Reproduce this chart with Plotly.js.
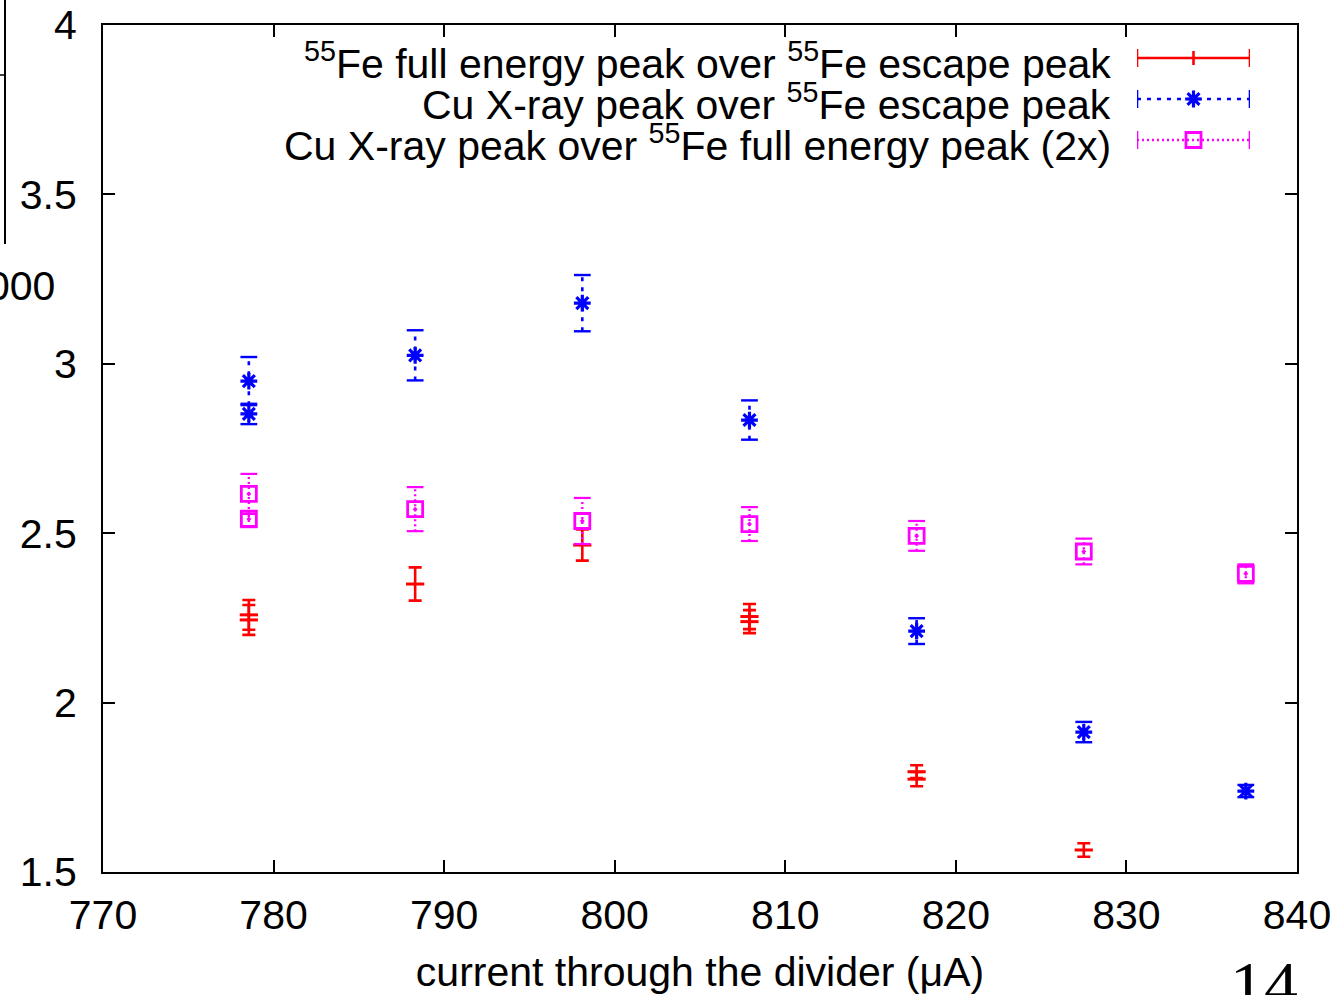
<!DOCTYPE html>
<html>
<head>
<meta charset="utf-8">
<script src="https://cdn.plot.ly/plotly-3.0.1.min.js"></script>
<style>html,body{margin:0;padding:0;background:#fff;}#plot{width:1341px;height:995px;}</style>
</head>
<body>
<div id="plot"></div>
<script>
// ---- data ----
const xTickVals = [770, 780, 790, 800, 810, 820, 830, 840];
const yTickVals = [1.5, 2, 2.5, 3, 3.5, 4];
const yTickText = ["1.5", "2", "2.5", "3", "3.5", "4"];

// 55Fe full energy peak over 55Fe escape peak
const feX   = [778.55, 778.55, 788.3, 798.1, 807.9, 807.9, 817.7, 817.7, 827.5];
const feY   = [2.259, 2.244, 2.350, 2.465, 2.254, 2.239, 1.796, 1.774, 1.565];
const feErr = [0.044, 0.044, 0.049, 0.046, 0.037, 0.034, 0.019, 0.021, 0.020];

// Cu X-ray peak over 55Fe escape peak
const cuEscX   = [778.55, 778.55, 788.3, 798.1, 807.9, 817.7, 827.5, 837.0];
const cuEscY   = [2.949, 2.852, 3.025, 3.179, 2.834, 2.211, 1.913, 1.739];
const cuEscErr = [0.071, 0.030, 0.074, 0.083, 0.058, 0.038, 0.030, 0.018];

// Cu X-ray peak over 55Fe full energy peak (2x)
const cuFullX   = [778.55, 778.55, 788.3, 798.1, 807.9, 817.7, 827.5, 837.0];
const cuFullY   = [2.616, 2.542, 2.571, 2.536, 2.527, 2.492, 2.446, 2.380];
const cuFullErr = [0.059, 0.024, 0.065, 0.068, 0.050, 0.044, 0.038, 0.028];

const legendLabels = [
  "<sup>55</sup>Fe full energy peak over <sup>55</sup>Fe escape peak",
  "Cu X-ray peak over <sup>55</sup>Fe escape peak",
  "Cu X-ray peak over <sup>55</sup>Fe full energy peak (2x)"
];
const xTitle = "current through the divider (\u03BCA)";

// ---- helpers ----
const RED = "#ff0000", BLUE = "#0000ff", MAG = "#ff00ff";
function segs(xs, ys, es) {
  const X = [], Y = [];
  xs.forEach((x, i) => { X.push(x, x, null); Y.push(ys[i] - es[i], ys[i] + es[i], null); });
  return {X, Y};
}
function caps(xs, ys, es) {
  const X = [], Y = [];
  xs.forEach((x, i) => { X.push(x, x); Y.push(ys[i] - es[i], ys[i] + es[i]); });
  return {X, Y};
}

const traces = [];
// red: solid error bars with + marker
traces.push({
  x: feX, y: feY, type: "scatter", mode: "markers", showlegend: false, hoverinfo: "skip",
  marker: {symbol: "line-ew-open", size: 13, color: RED, line: {color: RED, width: 3}},
  error_y: {type: "data", array: feErr, visible: true, color: RED, thickness: 2.6, width: 6.5}
});
// blue: dashed error bars with asterisk
const bS = segs(cuEscX, cuEscY, cuEscErr), bC = caps(cuEscX, cuEscY, cuEscErr);
traces.push({x: bS.X, y: bS.Y, type: "scatter", mode: "lines", showlegend: false, hoverinfo: "skip",
  line: {color: BLUE, width: 2.6, dash: "4px,6px"}, connectgaps: false});
traces.push({x: bC.X, y: bC.Y, type: "scatter", mode: "markers", showlegend: false, hoverinfo: "skip",
  marker: {symbol: "line-ew-open", size: 12, color: BLUE, line: {color: BLUE, width: 2.4}}});
traces.push({x: cuEscX, y: cuEscY, type: "scatter", mode: "markers", showlegend: false, hoverinfo: "skip",
  marker: {symbol: "asterisk-open", size: 14, color: BLUE, line: {color: BLUE, width: 3.2}}});
// magenta: dotted error bars with square
const mS = segs(cuFullX, cuFullY, cuFullErr), mC = caps(cuFullX, cuFullY, cuFullErr);
traces.push({x: mS.X, y: mS.Y, type: "scatter", mode: "lines", showlegend: false, hoverinfo: "skip",
  line: {color: MAG, width: 2.4, dash: "2px,3px"}, connectgaps: false});
traces.push({x: mC.X, y: mC.Y, type: "scatter", mode: "markers", showlegend: false, hoverinfo: "skip",
  marker: {symbol: "line-ew-open", size: 12, color: MAG, line: {color: MAG, width: 2.2}}});
traces.push({x: cuFullX, y: cuFullY, type: "scatter", mode: "markers", showlegend: false, hoverinfo: "skip",
  marker: {symbol: "square-open-dot", size: 15, color: MAG, line: {color: MAG, width: 2.8}}});

// legend samples on an overlay axis (rows 0,1,2)
const keyStyles = [
  {color: RED, dash: "solid", mid: "line-ns-open", midSize: 10, midW: 2.6},
  {color: BLUE, dash: "4px,6px", mid: "asterisk-open", midSize: 14, midW: 3.2},
  {color: MAG, dash: "2px,3px", mid: "square-open", midSize: 15, midW: 2.8}
];
keyStyles.forEach((s, r) => {
  traces.push({x: [0, 1], y: [r, r], xaxis: "x2", yaxis: "y2", type: "scatter", mode: "lines",
    showlegend: false, hoverinfo: "skip", line: {color: s.color, width: 2.6, dash: s.dash}});
  traces.push({x: [0, 1], y: [r, r], xaxis: "x2", yaxis: "y2", type: "scatter", mode: "markers",
    showlegend: false, hoverinfo: "skip",
    marker: {symbol: "line-ns-open", size: 13, color: s.color, line: {color: s.color, width: 2.6}}});
  traces.push({x: [0.5], y: [r], xaxis: "x2", yaxis: "y2", type: "scatter", mode: "markers",
    showlegend: false, hoverinfo: "skip",
    marker: {symbol: s.mid, size: s.midSize, color: s.color, line: {color: s.color, width: s.midW}}});
});

// ---- layout ----
const L = 103, R = 44, T = 25, B = 123, W = 1341, H = 995;
const pw = W - L - R, ph = H - T - B;
const px2x = p => (p - L) / pw;
const py2y = p => (H - B - p) / ph;

const font = {family: "Liberation Sans, Arial, sans-serif", size: 41, color: "#000"};
const annotations = legendLabels.map((t, i) => ({
  text: t, xref: "paper", yref: "paper", x: px2x(1113), y: py2y(61 + 41 * i),
  xanchor: "right", yanchor: "middle", showarrow: false, font: font
}));
// page fragments visible around the figure
annotations.push({text: "000", xref: "paper", yref: "paper", x: px2x(57), y: py2y(286),
  xanchor: "right", yanchor: "middle", showarrow: false, font: font});
annotations.push({text: "14", xref: "paper", yref: "paper", x: px2x(1300), y: py2y(945),
  xanchor: "right", yanchor: "top", showarrow: false,
  font: {family: "Liberation Serif, serif", size: 68, color: "#000"}});

const layout = {
  width: W, height: H,
  margin: {l: L, r: R, t: T, b: B, pad: 0},
  paper_bgcolor: "#fff", plot_bgcolor: "#fff",
  font: font,
  showlegend: false,
  xaxis: {
    range: [770, 840], tickvals: xTickVals, ticks: "inside", ticklen: 12, tickwidth: 2,
    tickcolor: "#000", showline: true, linecolor: "#000", linewidth: 2, mirror: "ticks",
    showgrid: false, zeroline: false, ticklabelstandoff: 6,
    tickfont: font,
    title: {text: xTitle, font: font, standoff: 25}
  },
  yaxis: {
    range: [1.5, 4], tickvals: yTickVals, ticktext: yTickText, ticks: "inside", ticklen: 12,
    tickwidth: 2, tickcolor: "#000", showline: true, linecolor: "#000", linewidth: 2,
    mirror: "ticks", showgrid: false, zeroline: false, ticklabelstandoff: 16, tickfont: font
  },
  xaxis2: {domain: [px2x(1137), px2x(1250)], range: [0, 1], anchor: "y2", visible: false, fixedrange: true},
  yaxis2: {domain: [py2y(160), py2y(38)], range: [2 + 20 / 41, -20 / 41], anchor: "x2", visible: false, fixedrange: true},
  annotations: annotations,
  shapes: [
    {type: "line", xref: "paper", yref: "paper", x0: px2x(5), x1: px2x(5), y0: py2y(0), y1: py2y(244),
      line: {color: "#000", width: 2}},
    {type: "line", xref: "paper", yref: "paper", x0: px2x(0), x1: px2x(5), y0: py2y(75), y1: py2y(75),
      line: {color: "#000", width: 1.5}}
  ]
};

Plotly.newPlot("plot", traces, layout, {staticPlot: true, displayModeBar: false});
</script>
</body>
</html>
